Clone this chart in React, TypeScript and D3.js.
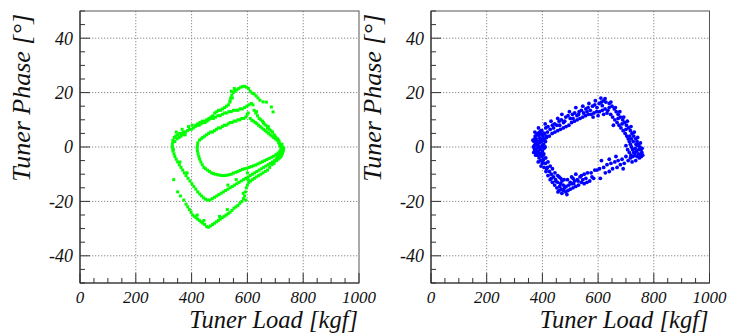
import React from "react";
import * as d3 from "d3";

// ---------- data ----------
const xTickValues = d3.range(0, 1001, 50);
const xLabelValues = [0, 200, 400, 600, 800, 1000];
const yTickValues = d3.range(-50, 51, 5);
const yLabelValues = [-40, -20, 0, 20, 40];
const xGridValues = [200, 400, 600, 800];
const yGridValues = [-40, -20, 0, 20, 40];

const xTitle = "Tuner Load [kgf]";
const yTitle = "Tuner Phase [°]";

// left panel (green) : tuner load, tuner phase
const greenOuterTop: [number, number][] = [
  [333,2.5],[338,3.5],[343,4],[350,4.5],[357,5],[364,5],[371,5.5],[378,5.5],[385,6],[392,6.5],[399,6.5],[406,7],[413,7.5],[420,8],[427,8],[434,8.5],[441,9],[448,9],[455,9.5],[462,10.5],[469,11],[476,11.5],[483,12.5],[490,13],[497,13.5],[504,13.5],[511,14],[518,14.5],[525,15],[532,15.5],[537,16.5],[540,18],[544,19],[549,20],[555,20.5],[562,21],[569,21.5],[576,22],[583,22.2],[590,22.3],[597,22],[604,21.5],[610,20.5],[617,19.8],[624,19.5],[631,18.8],[638,18],[645,17.2],[656,16.6],[668,16.5],[686,14.7],[692,12.9],
  [340,2],[348,3],[355,3.5],[362,4],[370,4.5],[377,4.5],[345,5.5],[366,6.5],[389,7.5],[402,8],[538,17],[546,18],[553,21.5],[542,20.5],
];
const greenMiddleTop: [number, number][] = [
  [415,8],[422,8.5],[430,9],[438,9.5],[446,9.5],[454,10],[462,10],[470,10.5],[478,10.5],[486,11],[494,11.5],[502,11.5],[510,12],[518,12.5],[526,12.5],[534,13],[542,13],[550,13.5],[558,13.5],[566,13.5],[574,14],[582,14],[590,14.5],[598,15],[606,15.5],[614,16],[620,15.5],
  [624,13.5],[630,12.5],[636,11.5],[642,10.5],[648,10],[654,9.5],[660,8.5],[666,8],[672,7],[678,6.5],[684,6],[690,5.5],[696,4.5],[702,3.5],[708,3],[714,2],[719,1],[723,0],[726,-0.5],[728,-1.5],[725,-2.5],[720,-2],
  [633,13],[657,9],[675,7.5],[699,4],[711,2.5],[721,-1],[730,-0.5],
];
const greenInnerTop: [number, number][] = [
  [422,1.5],[428,2.5],[434,3],[440,3.5],[447,4],[454,4.5],[461,5],[468,5.5],[475,5.5],[482,6],[489,6.5],[496,7],[503,7],[510,7.5],[517,8],[524,8],[531,8.5],[538,9],[545,9],[552,9.5],[559,9.5],[566,10],[573,10],[580,10.5],[587,10.5],[594,11],[599,12],[603,12.5],
  [610,10.5],[616,9.8],[622,9.5],[628,9],[634,8.6],[640,8],[646,7.5],[652,7],[658,6.5],[664,6],[670,5.5],[676,5],[682,4.5],[688,4],[694,3.5],[700,3],[706,2.5],[712,1.5],
];
const greenInnerBottom: [number, number][] = [
  [421,0.5],[420,-0.5],[421,-1.5],[423,-2.5],[426,-3.5],[429,-4.5],
  [433,-5.5],[438,-6.5],[444,-7.5],[450,-8],[457,-8.5],[464,-9],[471,-9.5],[478,-9.8],[486,-10],[494,-10.2],[502,-10.4],[510,-10.5],[518,-10.5],[526,-10.4],[534,-10.2],[542,-10],[550,-9.6],[558,-9.3],[566,-9],[574,-8.6],[582,-8.2],[590,-8],[598,-7.8],[606,-7.5],[614,-7.2],[622,-6.9],[630,-6.6],[638,-6.2],[646,-5.8],[654,-5.4],[662,-5],[670,-4.6],[678,-4.2],[686,-3.8],[694,-3.4],[702,-2.8],[710,-2.2],[716,-1.6],
];
const greenMiddleBottom: [number, number][] = [
  [332,1.5],[331,0.5],[332,-0.5],[333,-1.5],
  [335,-1],[337,-2.5],[340,-3.5],[345,-4.5],[350,-5.5],[356,-6.5],[362,-7.5],[368,-8.5],[374,-9.5],[380,-10.5],[387,-11.5],[394,-12.5],[401,-13.5],[408,-14.5],[415,-15.5],[422,-16.5],[429,-17.3],[436,-18],[443,-18.7],[450,-19.2],[458,-19.5],[466,-19.5],[474,-19],[482,-18.5],[490,-18],[498,-17.5],[506,-17],[514,-16.5],[522,-16],[530,-15.5],[538,-15],[546,-14.5],[554,-14],[562,-13.5],[570,-13],[578,-12.5],[586,-12],[594,-11.5],[602,-11],[610,-10.5],[618,-10],[626,-9.5],[634,-9],[642,-8.5],[650,-8],[658,-7.5],[666,-7],[674,-6.5],[682,-6],[690,-5.5],[697,-5],[704,-4.5],[710,-4],
  [358,-5.5],[384,-9.5],[530,-14],[560,-12],[600,-9.5],
];
const greenOuterBottom: [number, number][] = [
  [336,-12],[350,-16.5],[360,-18],[372,-19.5],[380,-21],[386,-22],[392,-23],[398,-24],[404,-25],[410,-25.5],[416,-26],[422,-26.5],[428,-27],[434,-27.5],[440,-28],[447,-28.5],[454,-29.3],[461,-29.5],[468,-29],[475,-28.5],[482,-28],[489,-27.5],[496,-27],[503,-26.5],[510,-26],[517,-25.5],[524,-25],[531,-24.5],[538,-24],[545,-23.3],[552,-22.5],[559,-22],[566,-21.5],[573,-20.7],[580,-20],[586,-19],[590,-18],[593,-16.5],[596,-15],[600,-14],[605,-13],[611,-12.5],[618,-12],[625,-11.5],[632,-11],[640,-10.5],[648,-10],[656,-9.5],[664,-9],[672,-8.5],[680,-7.5],[688,-6.5],[696,-6],[704,-5],[710,-4.5],[716,-4],[720,-3.5],
  [716,0.5],[720,-0.5],[724,1],[727,0],[729,-1],[726,-2],[722,-3],[718,-2.5],[712,-3],[706,-3.5],
  [420,-25],[444,-27],[500,-25.5],[528,-23],[585,-17],[594,-19.5],[602,-12],
];

// right panel (blue)
const blueTopOuter: [number, number][] = [
  [372,3],[380,4.5],[390,5.5],[398,6],[405,5],[412,7],[420,7.5],[428,6.5],[436,8],[444,8.5],[452,8],[460,9.5],[468,10],[476,9],[484,11],[492,11.5],[500,10.5],[508,12],[516,12.5],[524,11.5],[532,13],[540,13.5],[548,12.5],[556,14],[564,14.5],[572,13.5],[580,15],[588,15.5],[596,14.5],[604,16],[612,16.5],[620,17],[628,16.5],
  [386,7],[410,8.5],[431,9.5],[455,10.5],[470,12],[497,13],[520,14.5],[545,15],[567,16],[590,17],[610,18],[625,17.8],[615,15.2],
];
const blueTopInner: [number, number][] = [
  [395,2],[405,3],[415,3.5],[425,4],[435,5],[445,5.5],[455,6],[465,6.5],[475,7],[485,7.5],[495,8],[505,9],[515,9.5],[525,10],[535,10.5],[545,11],[555,11.5],[565,12],[575,12],[585,12.5],[595,13],[605,13],[615,13.5],[625,14],[635,13.5],
  [418,5.5],[440,7],[462,8],[480,9.5],[510,10.5],[530,12],[560,13],[582,11],[600,11.5],[620,12],[632,12.5],[640,14.5],
];
const blueRightOuter: [number, number][] = [
  [640,16],[650,15],[658,14],[665,13],[672,12],[680,11],[688,10],[695,9],[702,8],[710,7],[716,6],[722,5],[728,4],[735,3],[740,2],[745,1],[750,0],[754,-1],[757,-2],[752,-3],[745,-2.5],
  [646,16.5],[662,14.5],[678,13],[692,11],[705,9.5],[718,7.5],[730,5.5],[742,3.5],[752,1.5],[758,-0.5],[760,-3],
];
const blueRightInner: [number, number][] = [
  [645,12],[652,11],[660,10],[668,9],[675,8],[682,7],[690,6],[697,5],[703,4],[708,3],[712,2],[716,1],[720,0],[724,-1],[728,-2],[733,-0.5],[738,-1.5],[742,0.5],
  [718,-3],[725,-3.5],[732,-3],[740,-3.5],[748,-4],[755,-3.5],[700,0.5],[706,-1],[712,-2],
  [655,8],[672,10.5],[686,8.5],[700,6.5],[714,4],[726,2],[736,1],[746,-1],[733,-2],[720,3],
];
const blueBottomRight: [number, number][] = [
  [735,-5],[722,-5.5],[708,-5],[694,-6],[680,-6.5],[668,-7.5],[652,-8],[640,-9],[626,-9.5],[608,-11.5],[596,-8.5],[584,-11.5],[570,-12.5],[560,-13],[550,-13.5],
  [716,-4],[700,-3.5],[686,-4.5],[672,-5],[660,-5.5],[646,-6],[632,-6.5],[620,-7.5],[605,-8],[588,-8.5],[575,-9.5],[562,-9.5],[550,-10],[540,-10.5],
  [690,-8],[664,-3.5],[640,-4.5],[612,-5],[578,-11],[556,-11.5],
];
const blueBottom: [number, number][] = [
  [540,-13],[530,-14],[520,-14.5],[510,-15],[500,-15.5],[492,-16],[484,-16.5],[476,-16],[468,-15.5],[460,-16],[452,-15],[444,-14],[436,-13],[428,-12],[420,-10.5],[413,-9],[406,-7.5],[400,-6],[394,-5],[388,-4],[382,-3],[376,-2],
  [535,-11],[525,-12],[515,-12.5],[505,-13.5],[495,-14],[485,-14.5],[475,-14],[465,-13.5],[455,-13],[447,-12],[440,-11],[432,-10],[425,-9],[418,-7.5],[411,-6],[404,-4.5],[398,-3.5],[392,-2.5],
  [520,-10],[505,-11],[490,-12],[478,-12],[466,-11.5],[455,-10.5],[445,-9.5],[436,-8],[428,-7],[420,-5.5],[412,-4],[405,-2.5],
  [488,-17.5],[470,-17],[456,-16.5],[480,-15],[500,-13],[512,-13.5],[528,-12.5],[545,-12],[462,-14.5],[448,-12.5],[432,-11.5],[415,-8],[402,-5],[385,-5.5],[395,-7],[470,-12.5],[460,-11],[510,-11.5],
];
const blueLeft: [number, number][] = [
  [368,0],[370,2],[372,-1],[375,1],[378,3],[380,-0.5],[382,2],[384,0.5],[386,-2],[388,4],[390,1.5],[392,-1],[394,3],[396,0],[398,2],[400,-1.5],[402,4],[404,1],[406,-0.5],[408,2.5],[410,0],[385,-3],[378,-1.5],[374,4],[392,5],[380,1],[388,2],[396,-2.5],
  [366,2.5],[369,-2],[373,5.5],[376,-3],[383,5],[387,0],[391,3],[395,6],[399,4.5],[403,-3],[407,5],[411,2],[414,4],[371,0.5],[377,2],[383,-1.5],[390,-2.5],[400,0.5],
];

const greenPoints = [
  ...greenOuterTop, ...greenMiddleTop, ...greenInnerTop,
  ...greenInnerBottom, ...greenMiddleBottom, ...greenOuterBottom,
];
const bluePoints = [
  ...blueTopOuter, ...blueTopInner, ...blueRightOuter, ...blueRightInner,
  ...blueBottomRight, ...blueBottom, ...blueLeft,
];

// ---------- layout ----------
const W = 731;
const H = 334;
const FONT = "Liberation Serif";

type PanelProps = {
  left: number;
  right: number;
  points: [number, number][];
  color: string;
  marker: "square" | "circle";
};

const TOP = 11;
const BOTTOM = 283;

function Panel({ left, right, points, color, marker }: PanelProps) {
  const x = d3.scaleLinear().domain([0, 1000]).range([left, right]);
  const y = d3.scaleLinear().domain([-50, 50]).range([BOTTOM, TOP]);
  const axisColor = "#333";
  return (
    <g>
      {xGridValues.map((v) => (
        <line key={"gx" + v} x1={x(v)} x2={x(v)} y1={TOP} y2={BOTTOM}
          stroke="#8c8c8c" strokeWidth={1} strokeDasharray="1.3,1.7" />
      ))}
      {yGridValues.map((v) => (
        <line key={"gy" + v} x1={left} x2={right} y1={y(v)} y2={y(v)}
          stroke="#8c8c8c" strokeWidth={1} strokeDasharray="1.3,1.7" />
      ))}
      <rect x={left} y={TOP} width={right - left} height={BOTTOM - TOP}
        fill="none" stroke="#555" strokeWidth={1} />
      {yTickValues.map((v) => (
        <line key={"ty" + v} x1={left} x2={left + (v % 20 === 0 ? 10 : 5)}
          y1={y(v)} y2={y(v)} stroke={axisColor} strokeWidth={1} />
      ))}
      {xTickValues.map((v) => (
        <line key={"tx" + v} x1={x(v)} x2={x(v)} y1={BOTTOM}
          y2={BOTTOM - (v % 200 === 0 ? 10 : 5)} stroke={axisColor} strokeWidth={1} />
      ))}
      <line x1={left} x2={left} y1={TOP} y2={BOTTOM} stroke={axisColor} strokeWidth={1.2} />
      <line x1={left} x2={right} y1={BOTTOM} y2={BOTTOM} stroke={axisColor} strokeWidth={1.2} />
      {points.map(([px, py], i) =>
        marker === "square" ? (
          <rect key={"p" + i} x={x(px) - 1.5} y={y(py) - 1.5} width={3} height={3} fill={color} />
        ) : (
          <circle key={"p" + i} cx={x(px)} cy={y(py)} r={1.9} fill={color} />
        )
      )}
      {yLabelValues.map((v) => (
        <text key={"ly" + v} x={left - 7} y={y(v)} dy="0.35em" textAnchor="end"
          fontFamily={FONT} fontStyle="italic" fontSize={18} fill="#111">{v}</text>
      ))}
      {xLabelValues.map((v) => (
        <text key={"lx" + v} x={x(v)} y={302.5} textAnchor="middle"
          fontFamily={FONT} fontStyle="italic" fontSize={17} fill="#111">{v}</text>
      ))}
      <text x={right - 1} y={328.3} textAnchor="end" fontFamily={FONT} fontStyle="italic"
        fontSize={24.5} fill="#111">{xTitle}</text>
      <text transform={`translate(${left - 50},${TOP + 3}) rotate(-90)`} textAnchor="end"
        fontFamily={FONT} fontStyle="italic" fontSize={26} fill="#111">{yTitle}</text>
    </g>
  );
}

export default function App() {
  return (
    <svg width={W} height={H} style={{ display: "block", position: "absolute", left: 0, top: 0, background: "#fff" }}>
      <rect x={0} y={0} width={W} height={H} fill="#fff" />
      <Panel left={80} right={359} points={greenPoints} color="#00ff00" marker="square" />
      <Panel left={431} right={709.5} points={bluePoints} color="#0000ff" marker="circle" />
    </svg>
  );
}
